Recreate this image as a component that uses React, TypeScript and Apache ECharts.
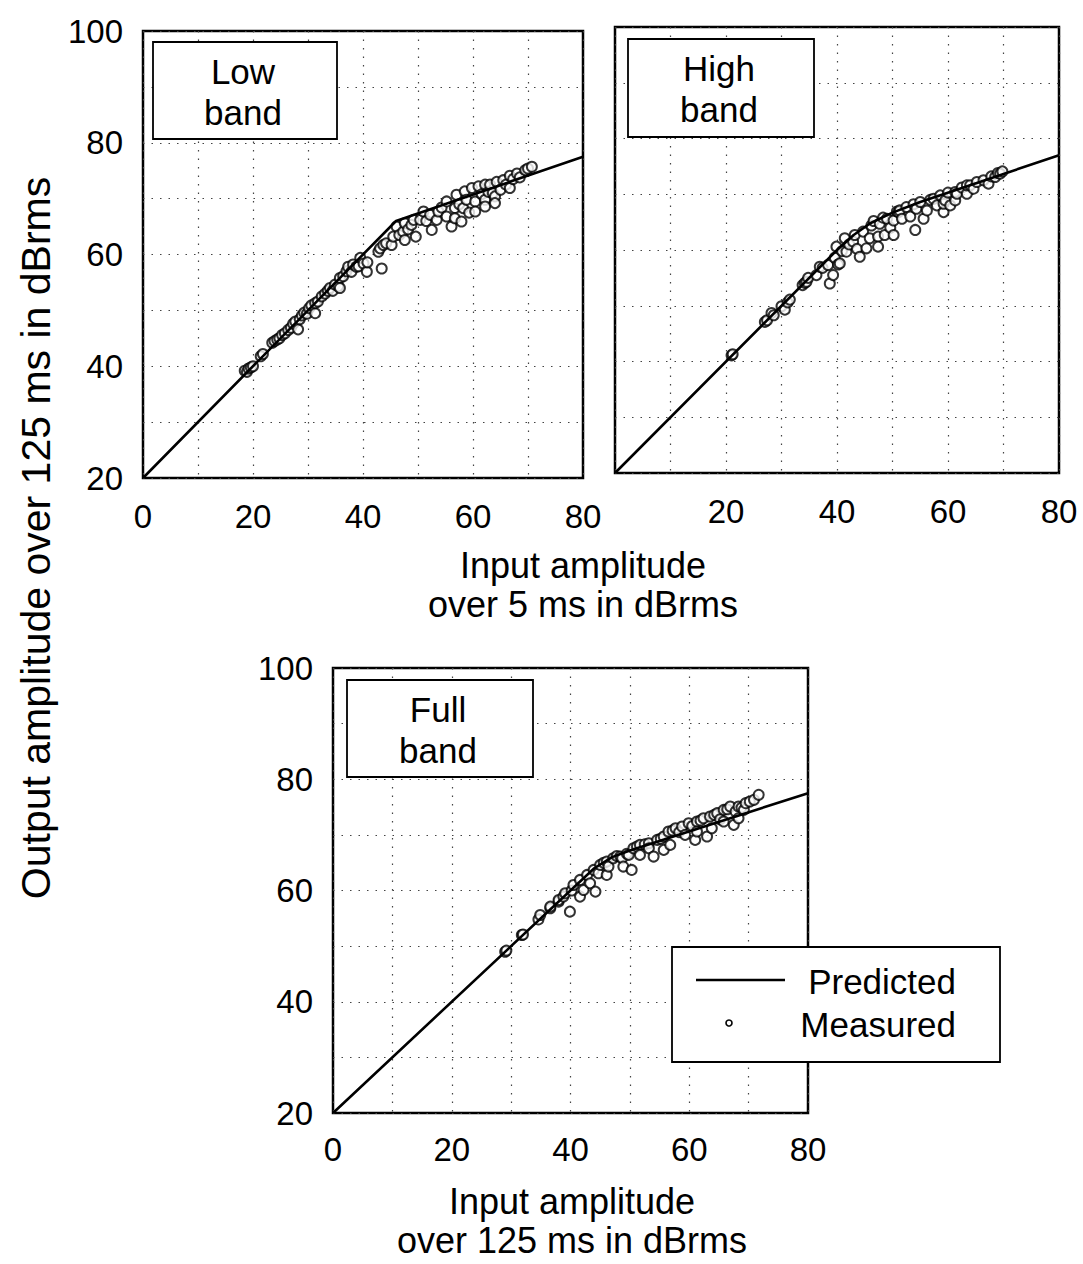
import React, { useEffect, useRef } from "react";
import * as echarts from "echarts";

// ---------- data ----------
const xTicks = [0, 20, 40, 60, 80];
const yTicks = [20, 40, 60, 80, 100];

const lowPredicted = [[0, 20], [46, 66], [80, 77.5]];
const highPredicted = [[0, 20], [40, 60], [43, 62.7], [46, 64.8], [50, 66.7], [55, 68.6], [80, 77]];
const fullPredicted = [[0, 20], [44, 64], [47, 66], [50, 67.2], [80, 77.5]];

const lowMeasured = [
  [18.5, 39.2], [18.9, 39.0], [19.2, 39.6], [19.6, 39.8], [20.0, 40.0], [21.4, 41.8], [21.8, 42.2],
  [23.5, 44.2], [23.9, 44.5], [24.4, 44.8], [24.8, 45.0], [25.3, 45.6], [25.8, 45.9], [26.4, 46.5],
  [26.9, 46.9], [27.3, 47.6], [27.7, 48.0], [28.2, 46.6], [28.5, 48.4], [28.9, 49.1], [29.3, 49.6],
  [29.8, 49.4], [30.2, 50.4], [30.6, 50.9], [31.3, 49.5], [31.3, 51.3], [31.8, 51.6], [32.5, 52.5],
  [33.1, 53.0], [33.6, 53.5], [34.0, 54.0], [34.5, 53.5], [34.9, 54.6], [35.5, 54.3], [35.8, 55.8],
  [35.8, 54.0], [36.4, 56.1], [37.0, 57.0], [37.3, 57.8], [37.9, 56.9], [38.2, 58.2], [38.8, 57.8],
  [39.2, 57.9], [39.5, 59.4], [40.1, 58.4], [40.7, 56.9], [40.8, 58.6], [43.4, 57.5],
  [42.8, 60.5], [43.1, 61.1], [43.7, 61.7], [44.2, 62.0], [45.2, 61.7], [45.5, 63.2], [46.1, 65.0],
  [46.6, 63.5], [47.3, 64.1], [47.6, 65.6], [47.6, 62.6], [48.2, 64.5], [48.8, 65.3], [49.2, 66.2],
  [49.6, 63.2], [50.4, 66.2], [51.0, 67.7], [51.5, 66.0], [52.2, 67.1], [52.5, 64.4], [53.4, 66.2],
  [53.7, 67.7], [54.3, 68.4], [55.2, 69.5], [55.2, 66.8], [56.1, 65.0], [56.7, 68.3], [56.7, 66.5],
  [57.0, 70.7], [57.5, 69.0], [57.9, 65.9], [58.2, 68.3], [58.5, 71.3], [58.8, 69.8], [59.3, 67.5],
  [59.8, 71.9], [60.4, 69.5], [60.4, 67.7], [61.0, 72.2], [61.6, 70.8], [62.2, 72.5], [62.2, 69.8],
  [62.2, 68.6], [62.8, 71.2], [63.1, 72.5], [63.6, 71.0], [64.0, 70.4], [64.0, 69.2], [64.3, 73.0],
  [65.0, 71.6], [65.5, 73.3], [66.0, 72.5], [66.7, 74.1], [66.7, 71.9], [67.3, 73.5], [68.0, 74.5],
  [68.5, 73.8], [69.5, 75.1], [70.0, 75.4], [70.7, 75.7],
];

const highMeasured = [
  [21.0, 41.1], [21.2, 41.3], [27.0, 47.1], [27.4, 47.4], [28.2, 48.7], [28.6, 48.3], [30.0, 49.9],
  [30.6, 49.3], [31.1, 50.6], [31.5, 51.1], [33.8, 53.7], [34.2, 54.1], [34.5, 54.3], [34.8, 55.0],
  [36.3, 55.5], [36.9, 57.0], [37.4, 56.8], [38.4, 57.3], [38.7, 54.0], [39.3, 55.5], [39.6, 58.6],
  [39.9, 60.6], [40.2, 57.4], [40.5, 57.6], [40.9, 59.8], [41.4, 62.1], [41.7, 59.7], [42.2, 61.0],
  [42.9, 61.5], [43.2, 62.7], [43.6, 60.2], [44.1, 58.8], [44.7, 63.3], [45.3, 60.3], [45.9, 62.1],
  [46.2, 64.4], [46.6, 65.2], [47.4, 62.4], [47.4, 60.6], [47.7, 64.7], [48.3, 65.8], [48.6, 62.7],
  [49.0, 65.6], [49.6, 64.0], [50.2, 62.7], [50.2, 65.3], [50.8, 66.9], [51.1, 66.8], [51.3, 67.1],
  [51.7, 65.6], [52.5, 67.7], [53.2, 66.0], [53.8, 68.2], [54.1, 63.6], [54.3, 67.4], [55.0, 68.6],
  [55.6, 65.6], [56.2, 67.1], [56.8, 69.0], [57.4, 69.2], [58.0, 68.0], [58.6, 69.8], [59.2, 66.8],
  [59.2, 68.3], [59.5, 68.9], [60.0, 70.3], [60.4, 68.0], [61.3, 68.9], [61.3, 70.4], [61.6, 70.1],
  [62.5, 71.2], [63.4, 70.1], [63.4, 71.6], [64.0, 71.6], [64.6, 71.0], [65.2, 72.2], [66.4, 72.5],
  [67.3, 71.9], [67.8, 73.2], [68.5, 73.1], [69.0, 73.8], [69.4, 73.7], [69.8, 74.1],
];

const fullMeasured = [
  [29.0, 49.0], [29.2, 49.2], [31.8, 52.0], [32.0, 52.1], [34.6, 54.8], [34.9, 55.6], [36.6, 56.8],
  [36.6, 57.1], [38.0, 58.0], [38.0, 58.3], [38.8, 58.9], [39.1, 59.5], [39.9, 56.2], [40.2, 60.0],
  [40.5, 61.0], [41.6, 61.9], [41.6, 58.9], [42.2, 60.1], [42.8, 62.8], [43.3, 61.3], [43.9, 63.7],
  [44.2, 59.8], [44.7, 63.1], [45.0, 64.6], [45.6, 65.0], [46.1, 65.2], [46.1, 62.8], [46.4, 64.3],
  [47.2, 65.8], [47.8, 66.2], [48.4, 66.1], [48.7, 65.8], [48.9, 64.3], [49.5, 66.6], [49.8, 66.4],
  [50.3, 63.7], [50.6, 67.6], [51.2, 67.9], [51.7, 68.2], [51.7, 66.4], [52.5, 68.3], [53.2, 68.5],
  [53.2, 67.6], [54.0, 66.1], [54.6, 69.1], [55.2, 69.3], [55.7, 69.7], [55.7, 67.3], [56.5, 70.6],
  [56.8, 68.2], [57.2, 70.8], [57.7, 71.2], [58.3, 70.5], [58.8, 71.5], [59.3, 70.0], [59.9, 72.1],
  [60.5, 71.6], [61.0, 69.1], [61.3, 72.4], [61.3, 70.6], [61.9, 72.6], [62.4, 73.0], [63.0, 69.7],
  [63.5, 73.3], [63.8, 71.2], [64.2, 73.6], [64.7, 73.9], [65.2, 72.8], [65.8, 74.5], [65.8, 72.4],
  [66.4, 74.6], [66.9, 75.1], [67.5, 71.8], [67.8, 74.2], [68.3, 75.1], [68.3, 73.0], [68.8, 74.9],
  [69.2, 74.5], [69.5, 75.7], [70.2, 76.0], [70.9, 76.3], [71.7, 77.2],
];

const panelTitles = [["Low", "band"], ["High", "band"], ["Full", "band"]];
const xTitleTop = ["Input amplitude", "over 5 ms in dBrms"];
const xTitleBottom = ["Input amplitude", "over 125 ms in dBrms"];
const yTitle = "Output amplitude over 125 ms in dBrms";
const legendNames = ["Predicted", "Measured"];

// ---------- component ----------
const FONT = "'Liberation Sans', Arial, Helvetica, sans-serif";

export default function App() {
  const ref = useRef<HTMLDivElement>(null);

  useEffect(() => {
    document.body.style.margin = "0";
    const chart = echarts.init(ref.current!, null, { renderer: "svg" });

    const grids = [
      { left: 143, top: 31, width: 440, height: 447 },
      { left: 615, top: 27, width: 444, height: 446 },
      { left: 333, top: 668, width: 475, height: 445 },
    ];
    const dotted = { color: "#444", type: [1.5, 7], width: 1.2 };

    const xAxes = grids.map((_, i) => ({
      type: "value",
      gridIndex: i,
      min: 0,
      max: 80,
      interval: 10,
      axisLine: { show: false },
      axisTick: { show: false },
      splitLine: { show: true, lineStyle: dotted },
      axisLabel: {
        color: "#000",
        fontSize: 33,
        fontFamily: FONT,
        margin: i === 2 ? 20 : 22,
        formatter: (v: number) =>
          xTicks.includes(v) && !(i === 1 && v === 0) ? String(v) : "",
      },
    }));
    const yAxes = grids.map((_, i) => ({
      type: "value",
      gridIndex: i,
      min: 20,
      max: 100,
      interval: 10,
      axisLine: { show: false },
      axisTick: { show: false },
      splitLine: { show: true, lineStyle: dotted },
      axisLabel: {
        show: i !== 1,
        color: "#000",
        fontSize: 33,
        fontFamily: FONT,
        margin: 20,
        formatter: (v: number) => (yTicks.includes(v) ? String(v) : ""),
      },
    }));

    const measuredSets = [lowMeasured, highMeasured, fullMeasured];
    const predictedSets = [lowPredicted, highPredicted, fullPredicted];
    const series: any[] = [];
    measuredSets.forEach((d, i) => {
      series.push({
        type: "scatter",
        name: legendNames[1],
        xAxisIndex: i,
        yAxisIndex: i,
        data: d,
        symbol: "circle",
        symbolSize: 10,
        itemStyle: { color: "#fff", borderColor: "#000", borderWidth: 2 },
        z: 3,
      });
    });
    predictedSets.forEach((d, i) => {
      series.push({
        type: "line",
        name: legendNames[0],
        xAxisIndex: i,
        yAxisIndex: i,
        data: d,
        showSymbol: false,
        symbol: "none",
        lineStyle: { color: "#000", width: 2.6 },
        z: 4,
      });
    });

    const boxes = [
      { x: 153, y: 42, w: 184, h: 97 },
      { x: 628, y: 39, w: 186, h: 98 },
      { x: 347, y: 680, w: 186, h: 97 },
    ];
    const textStyle = (t: string, size = 36, extra: any = {}) => ({
      text: t,
      fill: "#000",
      font: `${size}px ${FONT}`,
      align: "center",
      verticalAlign: "middle",
      ...extra,
    });

    const graphic: any[] = [];
    boxes.forEach((b, i) => {
      graphic.push({
        type: "rect",
        shape: { x: b.x, y: b.y, width: b.w, height: b.h },
        style: { fill: "#fff", stroke: "#000", lineWidth: 1.8 },
        z: 10,
      });
      graphic.push({
        type: "text",
        x: b.x + b.w / 2 - 2,
        y: b.y + 29,
        style: textStyle(panelTitles[i][0], 35),
        z: 11,
      });
      graphic.push({
        type: "text",
        x: b.x + b.w / 2 - 2,
        y: b.y + 70,
        style: textStyle(panelTitles[i][1], 35),
        z: 11,
      });
    });

    // axis titles
    graphic.push({ type: "text", x: 583, y: 565, style: textStyle(xTitleTop[0]), z: 11 });
    graphic.push({ type: "text", x: 583, y: 604, style: textStyle(xTitleTop[1]), z: 11 });
    graphic.push({ type: "text", x: 572, y: 1201, style: textStyle(xTitleBottom[0]), z: 11 });
    graphic.push({ type: "text", x: 572, y: 1240, style: textStyle(xTitleBottom[1]), z: 11 });
    graphic.push({
      type: "text",
      x: 36,
      y: 538,
      rotation: Math.PI / 2,
      style: textStyle(yTitle, 41),
      z: 11,
    });

    // legend
    graphic.push({
      type: "rect",
      shape: { x: 672, y: 947, width: 328, height: 115 },
      style: { fill: "#fff", stroke: "#000", lineWidth: 1.8 },
      z: 10,
    });
    graphic.push({
      type: "line",
      shape: { x1: 696, y1: 980, x2: 785, y2: 980 },
      style: { stroke: "#000", lineWidth: 2.6 },
      z: 11,
    });
    graphic.push({
      type: "text",
      x: 956,
      y: 981,
      style: textStyle(legendNames[0], 35, { align: "right" }),
      z: 11,
    });
    graphic.push({
      type: "circle",
      shape: { cx: 729, cy: 1023, r: 3 },
      style: { fill: "#fff", stroke: "#000", lineWidth: 1.6 },
      z: 11,
    });
    graphic.push({
      type: "text",
      x: 956,
      y: 1024,
      style: textStyle(legendNames[1], 35, { align: "right" }),
      z: 11,
    });

    chart.setOption({
      animation: false,
      backgroundColor: "#fff",
      grid: grids.map((g) => ({
        ...g,
        show: true,
        borderColor: "#000",
        borderWidth: 2.5,
        backgroundColor: "transparent",
      })),
      xAxis: xAxes,
      yAxis: yAxes,
      series,
      graphic,
    });

    return () => chart.dispose();
  }, []);

  return <div ref={ref} style={{ width: 1083, height: 1264 }} />;
}
